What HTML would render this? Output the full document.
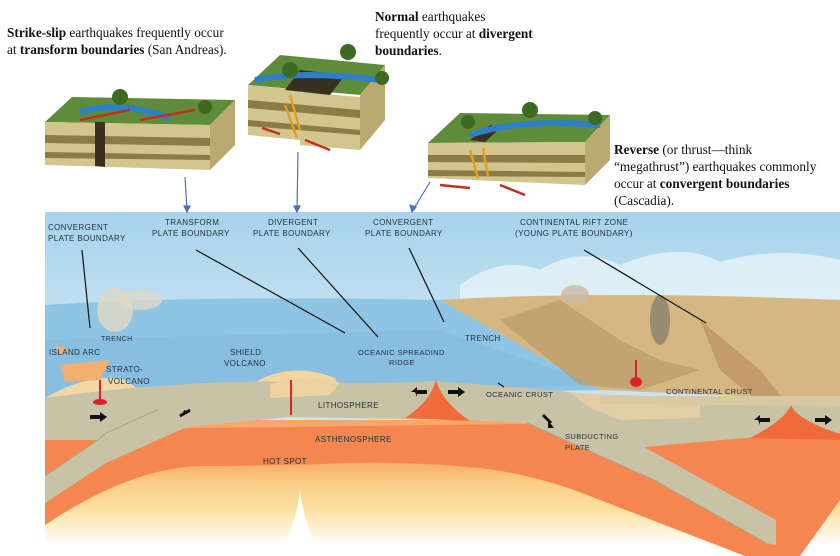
<!DOCTYPE html>
<html><head><meta charset="utf-8"><style>
html,body{margin:0;width:840px;height:556px;overflow:hidden;background:#fff;font-family:"Liberation Serif",serif;}
.t{position:absolute;font-size:13.3px;line-height:17px;color:#111;}
svg{position:absolute;left:0;top:0;overflow:hidden}
.l{font-family:"Liberation Sans",sans-serif;font-size:8px;fill:#233240;letter-spacing:.4px}
</style></head><body>
<svg width="840" height="556" viewBox="0 0 840 556">
<defs>
<linearGradient id="sky" x1="0" y1="0" x2="0" y2="1"><stop offset="0" stop-color="#a6d2ea"/><stop offset="0.3" stop-color="#c2e1f1"/><stop offset="1" stop-color="#d6ebf4"/></linearGradient>
<linearGradient id="yel" gradientUnits="userSpaceOnUse" x1="0" y1="420" x2="0" y2="556"><stop offset="0.3" stop-color="#f7a868"/><stop offset="0.45" stop-color="#f9cc84"/><stop offset="0.65" stop-color="#fcdfa0"/><stop offset="0.82" stop-color="#fef3d8"/><stop offset="0.92" stop-color="#ffffff"/></linearGradient>
</defs>
<rect x="45" y="212" width="795" height="344" fill="url(#sky)"/>
<path d="M460 285 Q500 255 540 270 Q580 245 620 265 Q680 240 720 262 Q780 245 840 260 L840 305 L460 300Z" fill="#e6f2f8" opacity=".8"/>
<!-- deep mantle -->
<rect x="45" y="420" width="795" height="136" fill="url(#yel)"/>
<path d="M280 556 Q297 520 300 490 Q303 520 320 556Z" fill="#ffffff"/>
<!-- asthenosphere orange -->
<path d="M45 430 L840 420 L840 500 L800 556 L745 556 L600 500 Q540 475 480 468 Q400 460 320 464 Q250 466 200 466 Q130 468 45 525Z" fill="#f5864f"/>
<!-- ocean -->
<path d="M45 305 Q200 295 440 300 L470 305 L610 390 L45 398Z" fill="#90c4e3"/>
<path d="M45 340 L440 330 L600 385 L45 398Z" fill="#7fb7dc" opacity=".5"/>
<!-- land -->
<path d="M440 300 Q600 290 840 300 L840 400 L600 390Z" fill="#d5b783"/>
<path d="M500 320 L560 300 L620 340 L660 360 L700 370 L640 390 L580 385Z" fill="#b99a6a" opacity=".7"/>
<path d="M700 320 L760 370 L800 420 L780 420 L720 370Z" fill="#b98a5a" opacity=".6"/>
<!-- smoke -->
<ellipse cx="115" cy="310" rx="18" ry="22" fill="#ddd8c8" opacity=".85"/>
<ellipse cx="140" cy="300" rx="22" ry="10" fill="#ddd8c8" opacity=".8"/>
<ellipse cx="660" cy="320" rx="10" ry="25" fill="#888070" opacity=".8"/>
<ellipse cx="575" cy="295" rx="14" ry="10" fill="#c8bca0" opacity=".8"/>
<!-- volcanoes / islands -->
<path d="M45 398 Q90 372 125 380 L150 397Z" fill="#f1d6a6"/>
<path d="M250 385 Q290 360 335 378 L340 388 L250 390Z" fill="#f1d6a0"/>
<path d="M55 345 L70 350 L60 355Z M60 365 L110 360 L100 380 L65 382Z" fill="#f0b070"/>
<!-- lithosphere -->
<path d="M45 398 Q100 390 160 386 Q230 380 300 382 Q380 384 436 381 Q500 386 560 391 L600 396 L840 396 L840 433 L756 437 L644 447 L776 520 L776 545 L766 543 L654 480 L527 423 L466 420 L289 417 L187 427 L106 463 L45 503Z" fill="#c8c2a6"/>
<path d="M45 440 L98 440 L45 476Z" fill="#f5864f"/>
<path d="M45 476 L98 440 L106 433 L157 410" stroke="#a9a388" stroke-width="1" fill="none"/>
<path d="M527 423 L654 480 L766 543" stroke="#a9a388" stroke-width="1" fill="none"/>
<path d="M270 385 Q300 370 340 383 L330 395 L270 398Z" fill="#ecd2a0"/>
<path d="M570 393 L700 398 L700 418 L620 420 L590 408Z" fill="#e3cda4"/>
<path d="M600 396 L840 396 L840 406 L600 404Z" fill="#d8c8a4"/>
<path d="M405 418 Q430 402 436 380 Q442 402 470 421Z M750 438 Q785 420 791 405 Q797 420 840 434 L840 440Z" fill="#f06a3a"/>
<!-- magma -->
<path d="M291 380 L291 415 M100 380 L100 400 M636 360 L636 385" stroke="#e0202a" stroke-width="2"/>
<ellipse cx="100" cy="402" rx="7" ry="3" fill="#e0202a"/>
<ellipse cx="636" cy="382" rx="6" ry="5" fill="#e0202a"/>
<!-- arrows -->
<g fill="#111">
<path d="M90 415 h10 v-3 l7 5 -7 5 v-3 h-10z"/><path d="M190 412 l-8 4 2 -6z M178 418 l10 -5"/>
<path d="M415 392 h-4 l6 -5 v3 h10 v4 h-10 v3z"/><path d="M448 390 h10 v-3 l7 5 -7 5 v-3 h-10z"/>
<path d="M548 420 l6 8 h-6z"/><path d="M758 420 h-4 l6 -5 v3 h10 v4 h-10 v3z"/><path d="M815 418 h10 v-3 l7 5 -7 5 v-3 h-10z"/>
</g>
<line x1="180" y1="416" x2="190" y2="410" stroke="#111" stroke-width="3"/>
<line x1="543" y1="415" x2="551" y2="423" stroke="#111" stroke-width="3"/>
<!-- leader lines -->
<g stroke="#111" stroke-width="1.2">
<line x1="82" y1="250" x2="90" y2="328"/><line x1="196" y1="250" x2="345" y2="333"/>
<line x1="298" y1="248" x2="378" y2="337"/><line x1="409" y1="248" x2="444" y2="322"/>
<line x1="584" y1="250" x2="706" y2="323"/><line x1="498" y1="383" x2="504" y2="387"/>
</g>
<!-- labels -->
<g class="l">
<text x="48" y="230">CONVERGENT</text><text x="48" y="241">PLATE BOUNDARY</text>
<text x="165" y="225">TRANSFORM</text><text x="152" y="236">PLATE BOUNDARY</text>
<text x="268" y="225">DIVERGENT</text><text x="253" y="236">PLATE BOUNDARY</text>
<text x="373" y="225">CONVERGENT</text><text x="365" y="236">PLATE BOUNDARY</text>
<text x="520" y="225">CONTINENTAL RIFT ZONE</text><text x="515" y="236">(YOUNG PLATE BOUNDARY)</text>
<text x="101" y="341" font-size="7">TRENCH</text><text x="49" y="355">ISLAND ARC</text>
<text x="106" y="372">STRATO-</text><text x="108" y="384">VOLCANO</text>
<text x="230" y="355">SHIELD</text><text x="224" y="366">VOLCANO</text>
<text x="358" y="355" font-size="7.5">OCEANIC SPREADIND</text><text x="389" y="365" font-size="7.5">RIDGE</text>
<text x="465" y="341">TRENCH</text>
<text x="318" y="408">LITHOSPHERE</text><text x="315" y="442">ASTHENOSPHERE</text>
<text x="263" y="464">HOT SPOT</text>
<text x="486" y="397" font-size="7.5">OCEANIC CRUST</text><text x="666" y="394" font-size="7.5">CONTINENTAL CRUST</text>
<text x="565" y="439" font-size="7.5">SUBDUCTING</text><text x="565" y="450" font-size="7.5">PLATE</text>
</g>
<!-- blue connectors -->
<g stroke="#4a72b8" stroke-width="1.2" fill="#4a72b8">
<line x1="185" y1="177" x2="187" y2="210"/><path d="M184 206 l3 6 3 -6z"/>
<line x1="298" y1="152" x2="297" y2="210"/><path d="M294 206 l3 6 3 -6z"/>
<line x1="430" y1="182" x2="413" y2="210"/><path d="M410 205 l2 7 4 -5z"/>
</g>
<!-- block 1 -->
<g>
<path d="M45 122 L72 97 L235 100 L210 125Z" fill="#5e8c3a"/>
<path d="M45 122 L210 125 L210 170 L45 165Z" fill="#d2c58e"/>
<path d="M45 135 L210 138 L210 146 L45 143Z M45 152 L210 155 L210 160 L45 158Z" fill="#8c7a48"/>
<path d="M210 125 L235 100 L235 145 L210 170Z" fill="#b8aa70"/>
<path d="M95 122 L105 122 L105 167 L95 166Z" fill="#3a3020"/>
<path d="M80 112 Q120 100 170 118" stroke="#2e7fc8" stroke-width="6" fill="none"/>
<path d="M80 120 L130 110 M140 120 L195 110" stroke="#c03020" stroke-width="2.5"/>
<circle cx="120" cy="97" r="8" fill="#3c6a24"/><circle cx="205" cy="107" r="7" fill="#3c6a24"/>
</g>
<!-- block 2 -->
<g>
<path d="M248 85 L280 55 L385 65 L360 95Z" fill="#5e8c3a"/>
<path d="M248 85 L300 90 L300 140 L248 135Z M300 92 L360 97 L360 150 L300 145Z" fill="#d2c58e"/>
<path d="M248 100 L360 110 L360 118 L248 108Z M248 120 L360 130 L360 135 L248 126Z" fill="#8c7a48"/>
<path d="M360 95 L385 65 L385 120 L360 150Z" fill="#b8aa70"/>
<path d="M300 70 L345 75 L330 95 L285 90Z" fill="#3a3020"/>
<path d="M255 80 Q300 70 380 80" stroke="#2e7fc8" stroke-width="6" fill="none"/>
<path d="M290 95 L300 130 M285 105 L297 138" stroke="#e0a020" stroke-width="2.5"/>
<path d="M262 128 L280 134 M305 140 L330 150" stroke="#c03020" stroke-width="2.5"/>
<circle cx="290" cy="70" r="8" fill="#3c6a24"/><circle cx="348" cy="52" r="8" fill="#3c6a24"/><circle cx="382" cy="78" r="7" fill="#3c6a24"/>
</g>
<!-- block 3 -->
<g>
<path d="M428 143 L460 113 L610 115 L585 142Z" fill="#5e8c3a"/>
<path d="M428 143 L585 142 L585 185 L428 178Z" fill="#d2c58e"/>
<path d="M428 155 L585 155 L585 163 L428 162Z M428 170 L585 172 L585 177 L428 176Z" fill="#8c7a48"/>
<path d="M585 142 L610 115 L610 160 L585 185Z" fill="#b8aa70"/>
<path d="M470 140 L490 125 L500 128 L485 142Z" fill="#3a3020"/>
<path d="M470 135 Q520 118 600 125" stroke="#2e7fc8" stroke-width="6" fill="none"/>
<path d="M470 150 L478 178 M483 148 L488 176" stroke="#e0a020" stroke-width="2.5"/>
<path d="M440 185 L470 188 M500 185 L525 195" stroke="#c03020" stroke-width="2.5"/>
<circle cx="468" cy="122" r="7" fill="#3c6a24"/><circle cx="530" cy="110" r="8" fill="#3c6a24"/><circle cx="595" cy="118" r="7" fill="#3c6a24"/>
</g>
</svg>
<div class="t" style="left:7px;top:24px"><b>Strike-slip</b> earthquakes frequently occur<br>at <b>transform boundaries</b> (San Andreas).</div>
<div class="t" style="left:375px;top:8px"><b>Normal</b> earthquakes<br>frequently occur at <b>divergent</b><br><b>boundaries</b>.</div>
<div class="t" style="left:614px;top:141px"><b>Reverse</b> (or thrust—think<br>“megathrust”) earthquakes commonly<br>occur at <b>convergent boundaries</b><br>(Cascadia).</div>
</body></html>
